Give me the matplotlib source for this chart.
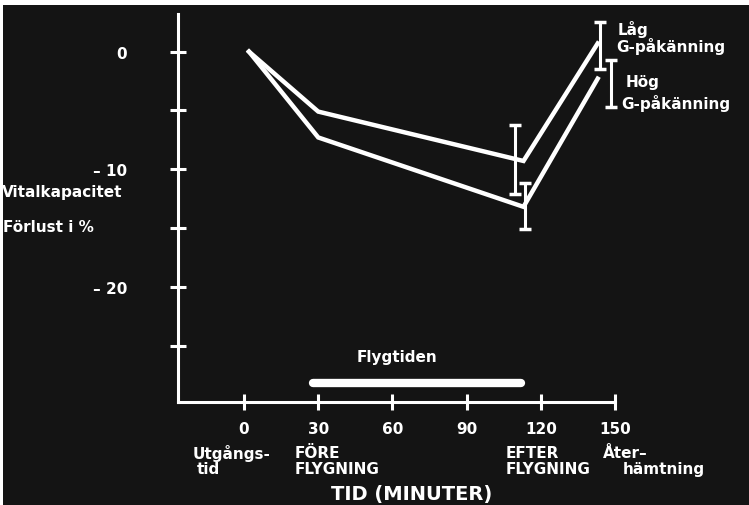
import matplotlib
matplotlib.use("Agg")
import matplotlib.pyplot as plt
from matplotlib.patches import Rectangle

BG_COLOR = "#141414"
FG_COLOR = "white"

# data (minutes, % change in vital capacity)
times = [2, 30, 113, 143]
lag_values = [0, -5.1, -9.3, 0.7]
hog_values = [0, -7.3, -13.2, -2.3]

# error bars: x position, low, high
lag_err_x = [109.7, 144.1]
lag_err_lo = [-12.1, -1.45]
lag_err_hi = [-6.2, 2.5]
hog_err_x = [113.8, 148.2]
hog_err_lo = [-15.1, -4.7]
hog_err_hi = [-11.2, -0.7]

flight_start, flight_end, flight_level = 28, 112, -28.2

x_ticks = [0, 30, 60, 90, 120, 150]
y_major = [0, -10, -20]
y_major_labels = ["0", "– 10", "– 20"]
y_minor = [-5, -15, -25]

FS = 11

fig = plt.figure(figsize=(7.49, 5.06), dpi=100)
fig.patch.set_facecolor(BG_COLOR)
# white scan border at the top and left
fig.patches.append(Rectangle((0, 1 - 6 / 506), 1, 6 / 506, transform=fig.transFigure,
                             facecolor="white", edgecolor="none", zorder=-1))
fig.patches.append(Rectangle((0, 0), 3 / 749, 1, transform=fig.transFigure,
                             facecolor="white", edgecolor="none", zorder=-1))

ax = fig.add_axes([178 / 749, 1 - 403 / 506, (615 - 178) / 749, (403 - 15) / 506])
ax.set_facecolor("none")
ax.set_xlim(-26.7, 150)
ax.set_ylim(-29.8, 3.2)

for s in ["top", "right"]:
    ax.spines[s].set_visible(False)
for s in ["left", "bottom"]:
    ax.spines[s].set_color(FG_COLOR)
    ax.spines[s].set_linewidth(2.2)

ax.set_xticks(x_ticks)
ax.set_xticklabels([str(t) for t in x_ticks], fontweight="bold", fontsize=FS)
ax.set_yticks(y_major)
ax.set_yticklabels(y_major_labels, fontweight="bold", fontsize=FS)
ax.set_yticks(y_minor, minor=True)
ax.tick_params(axis="both", which="both", direction="inout", colors=FG_COLOR,
               width=2.2, length=11)
ax.tick_params(axis="y", which="major", pad=31)
ax.tick_params(axis="x", which="major", pad=8)

line_kw = dict(color=FG_COLOR, linewidth=3.2, solid_joinstyle="miter", clip_on=False)
ax.plot(times, lag_values, **line_kw)
ax.plot(times, hog_values, **line_kw)

for xs, lo, hi in [(lag_err_x, lag_err_lo, lag_err_hi), (hog_err_x, hog_err_lo, hog_err_hi)]:
    centers = [(a + b) / 2 for a, b in zip(lo, hi)]
    halves = [(b - a) / 2 for a, b in zip(lo, hi)]
    ax.errorbar(xs, centers, yerr=halves, fmt="none", ecolor=FG_COLOR,
                elinewidth=2.2, capsize=4.5, capthick=2.5, clip_on=False)

ax.plot([flight_start, flight_end], [flight_level, flight_level], color=FG_COLOR,
        linewidth=6, solid_capstyle="round")
ax.text(62, -25.9, "Flygtiden", color=FG_COLOR, fontsize=FS, fontweight="bold",
        ha="center", va="center")

txt = dict(color=FG_COLOR, fontsize=FS, fontweight="bold", va="center", ha="left")
ax.text(151, 1.96, "Låg", **txt)
ax.text(150.6, 0.5, "G-påkänning", **txt)
ax.text(154.3, -2.55, "Hög", **txt)
ax.text(152.6, -4.3, "G-påkänning", **txt)

# phase names under the time axis
xt = ax.get_xaxis_transform()
ax.text(-20.6, -0.129, "Utgångs-", transform=xt, **txt)
ax.text(-19.0, -0.172, "tid", transform=xt, **txt)
ax.text(20.6, -0.129, "FÖRE", transform=xt, **txt)
ax.text(20.6, -0.172, "FLYGNING", transform=xt, **txt)
ax.text(105.7, -0.129, "EFTER", transform=xt, **txt)
ax.text(105.7, -0.172, "FLYGNING", transform=xt, **txt)
ax.text(145.3, -0.129, "Åter–", transform=xt, **txt)
ax.text(153, -0.172, "hämtning", transform=xt, **txt)
ax.text(67.6, -0.237, "TID (MINUTER)", transform=xt, color=FG_COLOR, fontsize=14,
        fontweight="bold", ha="center", va="center")

fig.text(2 / 749, 1 - 193 / 506, "Vitalkapacitet", color=FG_COLOR, fontsize=FS,
         fontweight="bold", va="center", ha="left")
fig.text(3 / 749, 1 - 228 / 506, "Förlust i %", color=FG_COLOR, fontsize=FS,
         fontweight="bold", va="center", ha="left")

fig.savefig("out.png", dpi=100, facecolor=fig.get_facecolor())
